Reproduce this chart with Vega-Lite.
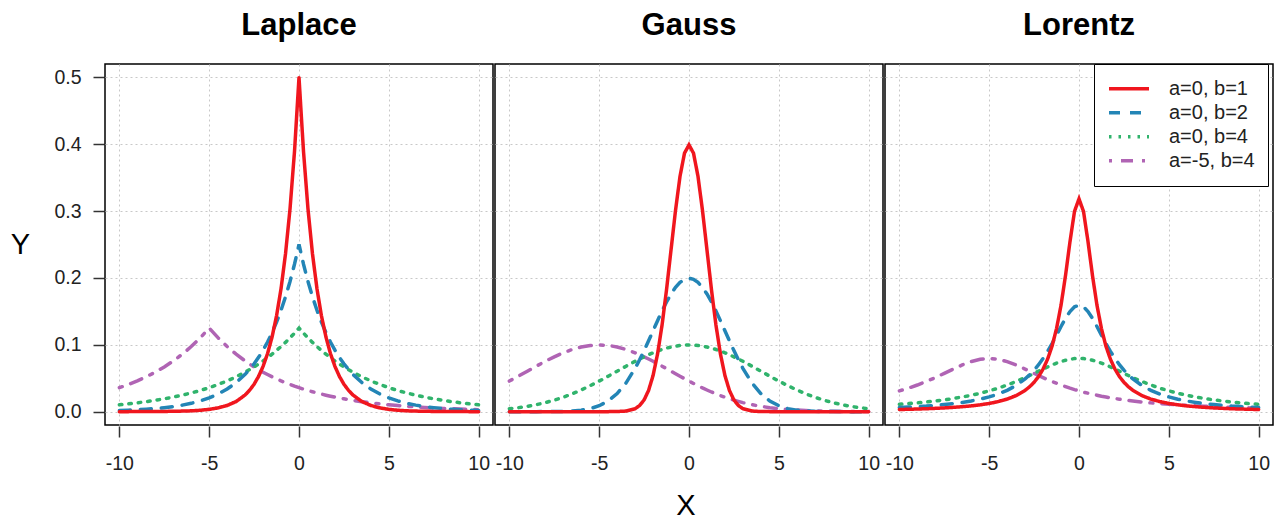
{
  "$schema": "https://vega.github.io/schema/vega-lite/v6.json",
  "padding": {"left": 10, "top": 10, "right": 5, "bottom": 0},
  "background": "white",
  "data": {"values": [
    {"p":"Laplace","x":-10,"a=0, b=1":0.0000,"a=0, b=2":0.0017,"a=0, b=4":0.0103,"a=-5, b=4":0.0358},
    {"p":"Laplace","x":-9.5,"a=0, b=1":0.0000,"a=0, b=2":0.0022,"a=0, b=4":0.0116,"a=-5, b=4":0.0406},
    {"p":"Laplace","x":-9,"a=0, b=1":0.0001,"a=0, b=2":0.0028,"a=0, b=4":0.0132,"a=-5, b=4":0.0460},
    {"p":"Laplace","x":-8.5,"a=0, b=1":0.0001,"a=0, b=2":0.0036,"a=0, b=4":0.0149,"a=-5, b=4":0.0521},
    {"p":"Laplace","x":-8,"a=0, b=1":0.0002,"a=0, b=2":0.0046,"a=0, b=4":0.0169,"a=-5, b=4":0.0590},
    {"p":"Laplace","x":-7.5,"a=0, b=1":0.0003,"a=0, b=2":0.0059,"a=0, b=4":0.0192,"a=-5, b=4":0.0669},
    {"p":"Laplace","x":-7,"a=0, b=1":0.0005,"a=0, b=2":0.0075,"a=0, b=4":0.0217,"a=-5, b=4":0.0758},
    {"p":"Laplace","x":-6.5,"a=0, b=1":0.0008,"a=0, b=2":0.0097,"a=0, b=4":0.0246,"a=-5, b=4":0.0859},
    {"p":"Laplace","x":-6,"a=0, b=1":0.0012,"a=0, b=2":0.0124,"a=0, b=4":0.0279,"a=-5, b=4":0.0974},
    {"p":"Laplace","x":-5.5,"a=0, b=1":0.0020,"a=0, b=2":0.0160,"a=0, b=4":0.0316,"a=-5, b=4":0.1103},
    {"p":"Laplace","x":-5,"a=0, b=1":0.0034,"a=0, b=2":0.0205,"a=0, b=4":0.0358,"a=-5, b=4":0.1250},
    {"p":"Laplace","x":-4.5,"a=0, b=1":0.0056,"a=0, b=2":0.0264,"a=0, b=4":0.0406,"a=-5, b=4":0.1103},
    {"p":"Laplace","x":-4,"a=0, b=1":0.0092,"a=0, b=2":0.0338,"a=0, b=4":0.0460,"a=-5, b=4":0.0974},
    {"p":"Laplace","x":-3.5,"a=0, b=1":0.0151,"a=0, b=2":0.0434,"a=0, b=4":0.0521,"a=-5, b=4":0.0859},
    {"p":"Laplace","x":-3,"a=0, b=1":0.0249,"a=0, b=2":0.0558,"a=0, b=4":0.0590,"a=-5, b=4":0.0758},
    {"p":"Laplace","x":-2.75,"a=0, b=1":0.0320,"a=0, b=2":0.0632,"a=0, b=4":0.0629,"a=-5, b=4":0.0712},
    {"p":"Laplace","x":-2.5,"a=0, b=1":0.0410,"a=0, b=2":0.0716,"a=0, b=4":0.0669,"a=-5, b=4":0.0669},
    {"p":"Laplace","x":-2.25,"a=0, b=1":0.0527,"a=0, b=2":0.0812,"a=0, b=4":0.0712,"a=-5, b=4":0.0629},
    {"p":"Laplace","x":-2,"a=0, b=1":0.0677,"a=0, b=2":0.0920,"a=0, b=4":0.0758,"a=-5, b=4":0.0590},
    {"p":"Laplace","x":-1.75,"a=0, b=1":0.0869,"a=0, b=2":0.1042,"a=0, b=4":0.0807,"a=-5, b=4":0.0555},
    {"p":"Laplace","x":-1.5,"a=0, b=1":0.1116,"a=0, b=2":0.1181,"a=0, b=4":0.0859,"a=-5, b=4":0.0521},
    {"p":"Laplace","x":-1.25,"a=0, b=1":0.1433,"a=0, b=2":0.1338,"a=0, b=4":0.0915,"a=-5, b=4":0.0490},
    {"p":"Laplace","x":-1,"a=0, b=1":0.1839,"a=0, b=2":0.1516,"a=0, b=4":0.0974,"a=-5, b=4":0.0460},
    {"p":"Laplace","x":-0.75,"a=0, b=1":0.2362,"a=0, b=2":0.1718,"a=0, b=4":0.1036,"a=-5, b=4":0.0432},
    {"p":"Laplace","x":-0.5,"a=0, b=1":0.3033,"a=0, b=2":0.1947,"a=0, b=4":0.1103,"a=-5, b=4":0.0406},
    {"p":"Laplace","x":-0.25,"a=0, b=1":0.3894,"a=0, b=2":0.2206,"a=0, b=4":0.1174,"a=-5, b=4":0.0381},
    {"p":"Laplace","x":0,"a=0, b=1":0.5000,"a=0, b=2":0.2500,"a=0, b=4":0.1250,"a=-5, b=4":0.0358},
    {"p":"Laplace","x":0.25,"a=0, b=1":0.3894,"a=0, b=2":0.2206,"a=0, b=4":0.1174,"a=-5, b=4":0.0336},
    {"p":"Laplace","x":0.5,"a=0, b=1":0.3033,"a=0, b=2":0.1947,"a=0, b=4":0.1103,"a=-5, b=4":0.0316},
    {"p":"Laplace","x":0.75,"a=0, b=1":0.2362,"a=0, b=2":0.1718,"a=0, b=4":0.1036,"a=-5, b=4":0.0297},
    {"p":"Laplace","x":1,"a=0, b=1":0.1839,"a=0, b=2":0.1516,"a=0, b=4":0.0974,"a=-5, b=4":0.0279},
    {"p":"Laplace","x":1.25,"a=0, b=1":0.1433,"a=0, b=2":0.1338,"a=0, b=4":0.0915,"a=-5, b=4":0.0262},
    {"p":"Laplace","x":1.5,"a=0, b=1":0.1116,"a=0, b=2":0.1181,"a=0, b=4":0.0859,"a=-5, b=4":0.0246},
    {"p":"Laplace","x":1.75,"a=0, b=1":0.0869,"a=0, b=2":0.1042,"a=0, b=4":0.0807,"a=-5, b=4":0.0231},
    {"p":"Laplace","x":2,"a=0, b=1":0.0677,"a=0, b=2":0.0920,"a=0, b=4":0.0758,"a=-5, b=4":0.0217},
    {"p":"Laplace","x":2.25,"a=0, b=1":0.0527,"a=0, b=2":0.0812,"a=0, b=4":0.0712,"a=-5, b=4":0.0204},
    {"p":"Laplace","x":2.5,"a=0, b=1":0.0410,"a=0, b=2":0.0716,"a=0, b=4":0.0669,"a=-5, b=4":0.0192},
    {"p":"Laplace","x":2.75,"a=0, b=1":0.0320,"a=0, b=2":0.0632,"a=0, b=4":0.0629,"a=-5, b=4":0.0180},
    {"p":"Laplace","x":3,"a=0, b=1":0.0249,"a=0, b=2":0.0558,"a=0, b=4":0.0590,"a=-5, b=4":0.0169},
    {"p":"Laplace","x":3.5,"a=0, b=1":0.0151,"a=0, b=2":0.0434,"a=0, b=4":0.0521,"a=-5, b=4":0.0149},
    {"p":"Laplace","x":4,"a=0, b=1":0.0092,"a=0, b=2":0.0338,"a=0, b=4":0.0460,"a=-5, b=4":0.0132},
    {"p":"Laplace","x":4.5,"a=0, b=1":0.0056,"a=0, b=2":0.0264,"a=0, b=4":0.0406,"a=-5, b=4":0.0116},
    {"p":"Laplace","x":5,"a=0, b=1":0.0034,"a=0, b=2":0.0205,"a=0, b=4":0.0358,"a=-5, b=4":0.0103},
    {"p":"Laplace","x":5.5,"a=0, b=1":0.0020,"a=0, b=2":0.0160,"a=0, b=4":0.0316,"a=-5, b=4":0.0091},
    {"p":"Laplace","x":6,"a=0, b=1":0.0012,"a=0, b=2":0.0124,"a=0, b=4":0.0279,"a=-5, b=4":0.0080},
    {"p":"Laplace","x":6.5,"a=0, b=1":0.0008,"a=0, b=2":0.0097,"a=0, b=4":0.0246,"a=-5, b=4":0.0071},
    {"p":"Laplace","x":7,"a=0, b=1":0.0005,"a=0, b=2":0.0075,"a=0, b=4":0.0217,"a=-5, b=4":0.0062},
    {"p":"Laplace","x":7.5,"a=0, b=1":0.0003,"a=0, b=2":0.0059,"a=0, b=4":0.0192,"a=-5, b=4":0.0055},
    {"p":"Laplace","x":8,"a=0, b=1":0.0002,"a=0, b=2":0.0046,"a=0, b=4":0.0169,"a=-5, b=4":0.0048},
    {"p":"Laplace","x":8.5,"a=0, b=1":0.0001,"a=0, b=2":0.0036,"a=0, b=4":0.0149,"a=-5, b=4":0.0043},
    {"p":"Laplace","x":9,"a=0, b=1":0.0001,"a=0, b=2":0.0028,"a=0, b=4":0.0132,"a=-5, b=4":0.0038},
    {"p":"Laplace","x":9.5,"a=0, b=1":0.0000,"a=0, b=2":0.0022,"a=0, b=4":0.0116,"a=-5, b=4":0.0033},
    {"p":"Laplace","x":10,"a=0, b=1":0.0000,"a=0, b=2":0.0017,"a=0, b=4":0.0103,"a=-5, b=4":0.0029},

    {"p":"Gauss","x":-10,"a=0, b=1":0,"a=0, b=2":0,"a=0, b=4":0.0044,"a=-5, b=4":0.0457},
    {"p":"Gauss","x":-9.5,"a=0, b=1":0,"a=0, b=2":0,"a=0, b=4":0.0059,"a=-5, b=4":0.0530},
    {"p":"Gauss","x":-9,"a=0, b=1":0,"a=0, b=2":0,"a=0, b=4":0.0079,"a=-5, b=4":0.0605},
    {"p":"Gauss","x":-8.5,"a=0, b=1":0,"a=0, b=2":0,"a=0, b=4":0.0104,"a=-5, b=4":0.0680},
    {"p":"Gauss","x":-8,"a=0, b=1":0,"a=0, b=2":0.0001,"a=0, b=4":0.0135,"a=-5, b=4":0.0753},
    {"p":"Gauss","x":-7.5,"a=0, b=1":0,"a=0, b=2":0.0002,"a=0, b=4":0.0172,"a=-5, b=4":0.0820},
    {"p":"Gauss","x":-7,"a=0, b=1":0,"a=0, b=2":0.0004,"a=0, b=4":0.0216,"a=-5, b=4":0.0880},
    {"p":"Gauss","x":-6.5,"a=0, b=1":0,"a=0, b=2":0.0010,"a=0, b=4":0.0266,"a=-5, b=4":0.0930},
    {"p":"Gauss","x":-6,"a=0, b=1":0,"a=0, b=2":0.0022,"a=0, b=4":0.0324,"a=-5, b=4":0.0967},
    {"p":"Gauss","x":-5.5,"a=0, b=1":0,"a=0, b=2":0.0045,"a=0, b=4":0.0388,"a=-5, b=4":0.0990},
    {"p":"Gauss","x":-5,"a=0, b=1":0,"a=0, b=2":0.0088,"a=0, b=4":0.0457,"a=-5, b=4":0.0997},
    {"p":"Gauss","x":-4.5,"a=0, b=1":0,"a=0, b=2":0.0159,"a=0, b=4":0.0530,"a=-5, b=4":0.0990},
    {"p":"Gauss","x":-4,"a=0, b=1":0.0001,"a=0, b=2":0.0270,"a=0, b=4":0.0605,"a=-5, b=4":0.0967},
    {"p":"Gauss","x":-3.5,"a=0, b=1":0.0009,"a=0, b=2":0.0431,"a=0, b=4":0.0680,"a=-5, b=4":0.0930},
    {"p":"Gauss","x":-3,"a=0, b=1":0.0044,"a=0, b=2":0.0648,"a=0, b=4":0.0753,"a=-5, b=4":0.0880},
    {"p":"Gauss","x":-2.75,"a=0, b=1":0.0091,"a=0, b=2":0.0775,"a=0, b=4":0.0787,"a=-5, b=4":0.0851},
    {"p":"Gauss","x":-2.5,"a=0, b=1":0.0175,"a=0, b=2":0.0913,"a=0, b=4":0.0820,"a=-5, b=4":0.0820},
    {"p":"Gauss","x":-2.25,"a=0, b=1":0.0317,"a=0, b=2":0.1059,"a=0, b=4":0.0851,"a=-5, b=4":0.0787},
    {"p":"Gauss","x":-2,"a=0, b=1":0.0540,"a=0, b=2":0.1210,"a=0, b=4":0.0880,"a=-5, b=4":0.0753},
    {"p":"Gauss","x":-1.75,"a=0, b=1":0.0863,"a=0, b=2":0.1360,"a=0, b=4":0.0906,"a=-5, b=4":0.0717},
    {"p":"Gauss","x":-1.5,"a=0, b=1":0.1295,"a=0, b=2":0.1506,"a=0, b=4":0.0930,"a=-5, b=4":0.0680},
    {"p":"Gauss","x":-1.25,"a=0, b=1":0.1826,"a=0, b=2":0.1641,"a=0, b=4":0.0950,"a=-5, b=4":0.0643},
    {"p":"Gauss","x":-1,"a=0, b=1":0.2420,"a=0, b=2":0.1760,"a=0, b=4":0.0967,"a=-5, b=4":0.0605},
    {"p":"Gauss","x":-0.75,"a=0, b=1":0.3011,"a=0, b=2":0.1859,"a=0, b=4":0.0980,"a=-5, b=4":0.0567},
    {"p":"Gauss","x":-0.5,"a=0, b=1":0.3521,"a=0, b=2":0.1933,"a=0, b=4":0.0990,"a=-5, b=4":0.0530},
    {"p":"Gauss","x":-0.25,"a=0, b=1":0.3867,"a=0, b=2":0.1979,"a=0, b=4":0.0995,"a=-5, b=4":0.0493},
    {"p":"Gauss","x":0,"a=0, b=1":0.3989,"a=0, b=2":0.1995,"a=0, b=4":0.0997,"a=-5, b=4":0.0457},
    {"p":"Gauss","x":0.25,"a=0, b=1":0.3867,"a=0, b=2":0.1979,"a=0, b=4":0.0995,"a=-5, b=4":0.0421},
    {"p":"Gauss","x":0.5,"a=0, b=1":0.3521,"a=0, b=2":0.1933,"a=0, b=4":0.0990,"a=-5, b=4":0.0388},
    {"p":"Gauss","x":0.75,"a=0, b=1":0.3011,"a=0, b=2":0.1859,"a=0, b=4":0.0980,"a=-5, b=4":0.0355},
    {"p":"Gauss","x":1,"a=0, b=1":0.2420,"a=0, b=2":0.1760,"a=0, b=4":0.0967,"a=-5, b=4":0.0324},
    {"p":"Gauss","x":1.25,"a=0, b=1":0.1826,"a=0, b=2":0.1641,"a=0, b=4":0.0950,"a=-5, b=4":0.0294},
    {"p":"Gauss","x":1.5,"a=0, b=1":0.1295,"a=0, b=2":0.1506,"a=0, b=4":0.0930,"a=-5, b=4":0.0266},
    {"p":"Gauss","x":1.75,"a=0, b=1":0.0863,"a=0, b=2":0.1360,"a=0, b=4":0.0906,"a=-5, b=4":0.0240},
    {"p":"Gauss","x":2,"a=0, b=1":0.0540,"a=0, b=2":0.1210,"a=0, b=4":0.0880,"a=-5, b=4":0.0216},
    {"p":"Gauss","x":2.25,"a=0, b=1":0.0317,"a=0, b=2":0.1059,"a=0, b=4":0.0851,"a=-5, b=4":0.0193},
    {"p":"Gauss","x":2.5,"a=0, b=1":0.0175,"a=0, b=2":0.0913,"a=0, b=4":0.0820,"a=-5, b=4":0.0172},
    {"p":"Gauss","x":2.75,"a=0, b=1":0.0091,"a=0, b=2":0.0775,"a=0, b=4":0.0787,"a=-5, b=4":0.0153},
    {"p":"Gauss","x":3,"a=0, b=1":0.0044,"a=0, b=2":0.0648,"a=0, b=4":0.0753,"a=-5, b=4":0.0135},
    {"p":"Gauss","x":3.5,"a=0, b=1":0.0009,"a=0, b=2":0.0431,"a=0, b=4":0.0680,"a=-5, b=4":0.0104},
    {"p":"Gauss","x":4,"a=0, b=1":0.0001,"a=0, b=2":0.0270,"a=0, b=4":0.0605,"a=-5, b=4":0.0079},
    {"p":"Gauss","x":4.5,"a=0, b=1":0,"a=0, b=2":0.0159,"a=0, b=4":0.0530,"a=-5, b=4":0.0059},
    {"p":"Gauss","x":5,"a=0, b=1":0,"a=0, b=2":0.0088,"a=0, b=4":0.0457,"a=-5, b=4":0.0044},
    {"p":"Gauss","x":5.5,"a=0, b=1":0,"a=0, b=2":0.0045,"a=0, b=4":0.0388,"a=-5, b=4":0.0032},
    {"p":"Gauss","x":6,"a=0, b=1":0,"a=0, b=2":0.0022,"a=0, b=4":0.0324,"a=-5, b=4":0.0023},
    {"p":"Gauss","x":6.5,"a=0, b=1":0,"a=0, b=2":0.0010,"a=0, b=4":0.0266,"a=-5, b=4":0.0016},
    {"p":"Gauss","x":7,"a=0, b=1":0,"a=0, b=2":0.0004,"a=0, b=4":0.0216,"a=-5, b=4":0.0011},
    {"p":"Gauss","x":7.5,"a=0, b=1":0,"a=0, b=2":0.0002,"a=0, b=4":0.0172,"a=-5, b=4":0.0008},
    {"p":"Gauss","x":8,"a=0, b=1":0,"a=0, b=2":0.0001,"a=0, b=4":0.0135,"a=-5, b=4":0.0005},
    {"p":"Gauss","x":8.5,"a=0, b=1":0,"a=0, b=2":0,"a=0, b=4":0.0104,"a=-5, b=4":0.0003},
    {"p":"Gauss","x":9,"a=0, b=1":0,"a=0, b=2":0,"a=0, b=4":0.0079,"a=-5, b=4":0.0002},
    {"p":"Gauss","x":9.5,"a=0, b=1":0,"a=0, b=2":0,"a=0, b=4":0.0059,"a=-5, b=4":0.0001},
    {"p":"Gauss","x":10,"a=0, b=1":0,"a=0, b=2":0,"a=0, b=4":0.0044,"a=-5, b=4":0.0001},

    {"p":"Lorentz","x":-10,"a=0, b=1":0.0032,"a=0, b=2":0.0061,"a=0, b=4":0.0110,"a=-5, b=4":0.0311},
    {"p":"Lorentz","x":-9.5,"a=0, b=1":0.0035,"a=0, b=2":0.0068,"a=0, b=4":0.0120,"a=-5, b=4":0.0351},
    {"p":"Lorentz","x":-9,"a=0, b=1":0.0039,"a=0, b=2":0.0075,"a=0, b=4":0.0131,"a=-5, b=4":0.0398},
    {"p":"Lorentz","x":-8.5,"a=0, b=1":0.0043,"a=0, b=2":0.0083,"a=0, b=4":0.0144,"a=-5, b=4":0.0451},
    {"p":"Lorentz","x":-8,"a=0, b=1":0.0049,"a=0, b=2":0.0094,"a=0, b=4":0.0159,"a=-5, b=4":0.0509},
    {"p":"Lorentz","x":-7.5,"a=0, b=1":0.0056,"a=0, b=2":0.0106,"a=0, b=4":0.0176,"a=-5, b=4":0.0572},
    {"p":"Lorentz","x":-7,"a=0, b=1":0.0064,"a=0, b=2":0.0120,"a=0, b=4":0.0196,"a=-5, b=4":0.0637},
    {"p":"Lorentz","x":-6.5,"a=0, b=1":0.0074,"a=0, b=2":0.0138,"a=0, b=4":0.0219,"a=-5, b=4":0.0698},
    {"p":"Lorentz","x":-6,"a=0, b=1":0.0086,"a=0, b=2":0.0159,"a=0, b=4":0.0245,"a=-5, b=4":0.0749},
    {"p":"Lorentz","x":-5.5,"a=0, b=1":0.0102,"a=0, b=2":0.0186,"a=0, b=4":0.0275,"a=-5, b=4":0.0784},
    {"p":"Lorentz","x":-5,"a=0, b=1":0.0122,"a=0, b=2":0.0220,"a=0, b=4":0.0311,"a=-5, b=4":0.0796},
    {"p":"Lorentz","x":-4.5,"a=0, b=1":0.0150,"a=0, b=2":0.0263,"a=0, b=4":0.0351,"a=-5, b=4":0.0784},
    {"p":"Lorentz","x":-4,"a=0, b=1":0.0187,"a=0, b=2":0.0318,"a=0, b=4":0.0398,"a=-5, b=4":0.0749},
    {"p":"Lorentz","x":-3.5,"a=0, b=1":0.0240,"a=0, b=2":0.0392,"a=0, b=4":0.0451,"a=-5, b=4":0.0698},
    {"p":"Lorentz","x":-3,"a=0, b=1":0.0318,"a=0, b=2":0.0490,"a=0, b=4":0.0509,"a=-5, b=4":0.0637},
    {"p":"Lorentz","x":-2.75,"a=0, b=1":0.0372,"a=0, b=2":0.0551,"a=0, b=4":0.0540,"a=-5, b=4":0.0605},
    {"p":"Lorentz","x":-2.5,"a=0, b=1":0.0439,"a=0, b=2":0.0621,"a=0, b=4":0.0572,"a=-5, b=4":0.0572},
    {"p":"Lorentz","x":-2.25,"a=0, b=1":0.0525,"a=0, b=2":0.0702,"a=0, b=4":0.0605,"a=-5, b=4":0.0540},
    {"p":"Lorentz","x":-2,"a=0, b=1":0.0637,"a=0, b=2":0.0796,"a=0, b=4":0.0637,"a=-5, b=4":0.0509},
    {"p":"Lorentz","x":-1.75,"a=0, b=1":0.0784,"a=0, b=2":0.0901,"a=0, b=4":0.0668,"a=-5, b=4":0.0479},
    {"p":"Lorentz","x":-1.5,"a=0, b=1":0.0979,"a=0, b=2":0.1019,"a=0, b=4":0.0698,"a=-5, b=4":0.0451},
    {"p":"Lorentz","x":-1.25,"a=0, b=1":0.1242,"a=0, b=2":0.1144,"a=0, b=4":0.0725,"a=-5, b=4":0.0424},
    {"p":"Lorentz","x":-1,"a=0, b=1":0.1592,"a=0, b=2":0.1273,"a=0, b=4":0.0749,"a=-5, b=4":0.0398},
    {"p":"Lorentz","x":-0.75,"a=0, b=1":0.2037,"a=0, b=2":0.1395,"a=0, b=4":0.0769,"a=-5, b=4":0.0374},
    {"p":"Lorentz","x":-0.5,"a=0, b=1":0.2546,"a=0, b=2":0.1498,"a=0, b=4":0.0784,"a=-5, b=4":0.0351},
    {"p":"Lorentz","x":-0.25,"a=0, b=1":0.2996,"a=0, b=2":0.1567,"a=0, b=4":0.0793,"a=-5, b=4":0.0330},
    {"p":"Lorentz","x":0,"a=0, b=1":0.3183,"a=0, b=2":0.1592,"a=0, b=4":0.0796,"a=-5, b=4":0.0311},
    {"p":"Lorentz","x":0.25,"a=0, b=1":0.2996,"a=0, b=2":0.1567,"a=0, b=4":0.0793,"a=-5, b=4":0.0292},
    {"p":"Lorentz","x":0.5,"a=0, b=1":0.2546,"a=0, b=2":0.1498,"a=0, b=4":0.0784,"a=-5, b=4":0.0275},
    {"p":"Lorentz","x":0.75,"a=0, b=1":0.2037,"a=0, b=2":0.1395,"a=0, b=4":0.0769,"a=-5, b=4":0.0260},
    {"p":"Lorentz","x":1,"a=0, b=1":0.1592,"a=0, b=2":0.1273,"a=0, b=4":0.0749,"a=-5, b=4":0.0245},
    {"p":"Lorentz","x":1.25,"a=0, b=1":0.1242,"a=0, b=2":0.1144,"a=0, b=4":0.0725,"a=-5, b=4":0.0231},
    {"p":"Lorentz","x":1.5,"a=0, b=1":0.0979,"a=0, b=2":0.1019,"a=0, b=4":0.0698,"a=-5, b=4":0.0219},
    {"p":"Lorentz","x":1.75,"a=0, b=1":0.0784,"a=0, b=2":0.0901,"a=0, b=4":0.0668,"a=-5, b=4":0.0207},
    {"p":"Lorentz","x":2,"a=0, b=1":0.0637,"a=0, b=2":0.0796,"a=0, b=4":0.0637,"a=-5, b=4":0.0196},
    {"p":"Lorentz","x":2.25,"a=0, b=1":0.0525,"a=0, b=2":0.0702,"a=0, b=4":0.0605,"a=-5, b=4":0.0186},
    {"p":"Lorentz","x":2.5,"a=0, b=1":0.0439,"a=0, b=2":0.0621,"a=0, b=4":0.0572,"a=-5, b=4":0.0176},
    {"p":"Lorentz","x":2.75,"a=0, b=1":0.0372,"a=0, b=2":0.0551,"a=0, b=4":0.0540,"a=-5, b=4":0.0167},
    {"p":"Lorentz","x":3,"a=0, b=1":0.0318,"a=0, b=2":0.0490,"a=0, b=4":0.0509,"a=-5, b=4":0.0159},
    {"p":"Lorentz","x":3.5,"a=0, b=1":0.0240,"a=0, b=2":0.0392,"a=0, b=4":0.0451,"a=-5, b=4":0.0144},
    {"p":"Lorentz","x":4,"a=0, b=1":0.0187,"a=0, b=2":0.0318,"a=0, b=4":0.0398,"a=-5, b=4":0.0131},
    {"p":"Lorentz","x":4.5,"a=0, b=1":0.0150,"a=0, b=2":0.0263,"a=0, b=4":0.0351,"a=-5, b=4":0.0120},
    {"p":"Lorentz","x":5,"a=0, b=1":0.0122,"a=0, b=2":0.0220,"a=0, b=4":0.0311,"a=-5, b=4":0.0110},
    {"p":"Lorentz","x":5.5,"a=0, b=1":0.0102,"a=0, b=2":0.0186,"a=0, b=4":0.0275,"a=-5, b=4":0.0101},
    {"p":"Lorentz","x":6,"a=0, b=1":0.0086,"a=0, b=2":0.0159,"a=0, b=4":0.0245,"a=-5, b=4":0.0093},
    {"p":"Lorentz","x":6.5,"a=0, b=1":0.0074,"a=0, b=2":0.0138,"a=0, b=4":0.0219,"a=-5, b=4":0.0086},
    {"p":"Lorentz","x":7,"a=0, b=1":0.0064,"a=0, b=2":0.0120,"a=0, b=4":0.0196,"a=-5, b=4":0.0080},
    {"p":"Lorentz","x":7.5,"a=0, b=1":0.0056,"a=0, b=2":0.0106,"a=0, b=4":0.0176,"a=-5, b=4":0.0074},
    {"p":"Lorentz","x":8,"a=0, b=1":0.0049,"a=0, b=2":0.0094,"a=0, b=4":0.0159,"a=-5, b=4":0.0069},
    {"p":"Lorentz","x":8.5,"a=0, b=1":0.0043,"a=0, b=2":0.0083,"a=0, b=4":0.0144,"a=-5, b=4":0.0064},
    {"p":"Lorentz","x":9,"a=0, b=1":0.0039,"a=0, b=2":0.0075,"a=0, b=4":0.0131,"a=-5, b=4":0.0060},
    {"p":"Lorentz","x":9.5,"a=0, b=1":0.0035,"a=0, b=2":0.0068,"a=0, b=4":0.0120,"a=-5, b=4":0.0056},
    {"p":"Lorentz","x":10,"a=0, b=1":0.0032,"a=0, b=2":0.0061,"a=0, b=4":0.0110,"a=-5, b=4":0.0053}
  ]},
  "transform": [
    {"fold": ["a=-5, b=4", "a=0, b=4", "a=0, b=2", "a=0, b=1"], "as": ["series", "y"]}
  ],
  "facet": {
    "column": {
      "field": "p", "type": "nominal",
      "sort": ["Laplace", "Gauss", "Lorentz"],
      "header": {
        "title": null,
        "labelFontSize": 31,
        "labelFontWeight": "bold",
        "labelFont": "Liberation Sans",
        "labelColor": "black",
        "labelPadding": 21
      }
    }
  },
  "spacing": 0,
  "spec": {
    "width": 388,
    "height": 361,
    "mark": {"type": "line", "strokeWidth": 3.5, "strokeCap": "round", "clip": true},
    "encoding": {
      "x": {
        "field": "x", "type": "quantitative",
        "scale": {"domain": [-10.8, 10.8], "nice": false, "zero": false},
        "axis": {"title": null, "values": [-10, -5, 0, 5, 10], "labelExpr": "'' + datum.value", "labelPadding": 17}
      },
      "y": {
        "field": "y", "type": "quantitative",
        "scale": {"domain": [-0.02, 0.52], "nice": false, "zero": false},
        "axis": {
          "title": "Y", "values": [0, 0.1, 0.2, 0.3, 0.4, 0.5], "format": ".1f",
          "titleAngle": 0, "titleFontSize": 29, "titleFontWeight": "normal",
          "titleAlign": "center", "titleBaseline": "middle",
          "titleX": -84, "titleY": 180, "labelPadding": 12
        }
      },
      "color": {
        "field": "series", "type": "nominal",
        "scale": {
          "domain": ["a=0, b=1", "a=0, b=2", "a=0, b=4", "a=-5, b=4"],
          "range": ["#F0161E", "#2385B6", "#30B36C", "#B064B4"]
        },
        "legend": {"title": null}
      },
      "strokeDash": {
        "field": "series", "type": "nominal",
        "scale": {
          "domain": ["a=0, b=1", "a=0, b=2", "a=0, b=4", "a=-5, b=4"],
          "range": [[1, 0], [11, 10], [2.5, 7], [3, 9, 12, 9]]
        },
        "legend": {"title": null}
      }
    }
  },
  "title": {
    "text": "X", "orient": "bottom", "anchor": "middle",
    "fontSize": 29, "fontWeight": "normal", "font": "Liberation Sans", "color": "black", "offset": 19, "dx": 44
  },
  "config": {
    "font": "Liberation Sans",
    "view": {"stroke": "black", "strokeWidth": 1.5},
    "axis": {
      "domain": false,
      "grid": true,
      "gridColor": "#c8c8c8",
      "gridDash": [2, 3],
      "gridWidth": 1,
      "tickColor": "#333",
      "tickSize": 11,
      "tickWidth": 1.5,
      "labelFontSize": 19.5,
      "labelColor": "#222",
      "labelFont": "Liberation Sans",
      "labelOverlap": false,
      "labelFlush": false,
      "titleFont": "Liberation Sans",
      "titleColor": "black"
    },
    "legend": {
      "orient": "none",
      "legendX": 989,
      "legendY": 0,
      "strokeColor": "black",
      "fillColor": "white",
      "padding": 13,
      "labelFontSize": 20,
      "labelFont": "Liberation Sans",
      "labelColor": "#222",
      "symbolType": "stroke",
      "symbolSize": 1600,
      "symbolStrokeWidth": 3.5,
      "clipHeight": 23.5,
      "rowPadding": 0,
      "labelOffset": 18,
      "cornerRadius": 0
    }
  }
}
